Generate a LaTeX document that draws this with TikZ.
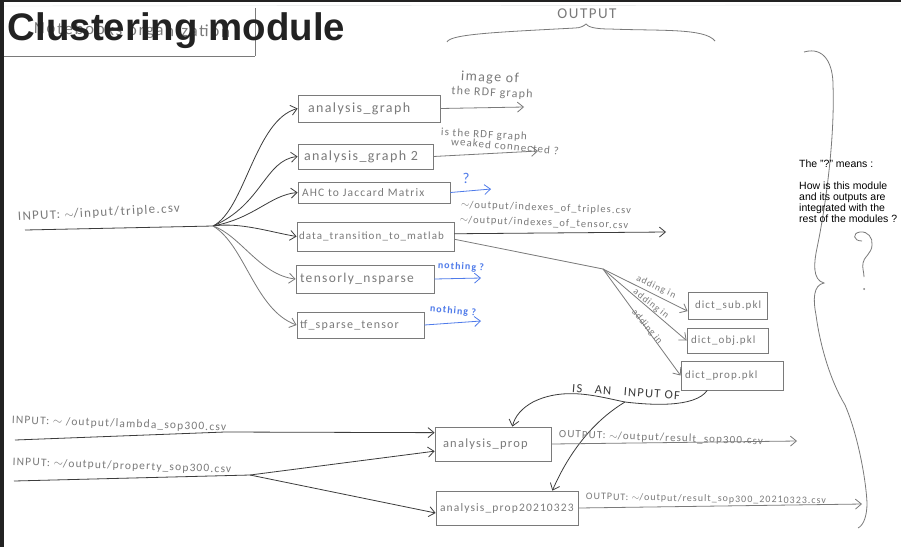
\documentclass[tikz,border=0pt]{standalone}
\usepackage{fontspec}
\usepackage{tikz}
\usetikzlibrary{arrows.meta,positioning}
\setmainfont{Liberation Sans}
\newfontfamily\handfont[LetterSpace=10]{Carlito}
\definecolor{pencil}{HTML}{7A7A7A}
\definecolor{darkpencil}{HTML}{3C3C3C}
\definecolor{bluepen}{HTML}{4F7BEA}
\definecolor{frame}{HTML}{222222}
\definecolor{faint}{HTML}{E2E6E6}
\newcommand{\handsize}[1]{\handfont\fontsize{#1}{#1}\selectfont}

\begin{document}
\begin{tikzpicture}[x=1pt,y=-1pt,>={Straight Barb[length=6pt,width=10pt]}]
	\tikzstyle{Box}		= [draw=pencil, thick, inner ysep=0pt, align=left, text=pencil]
	\tikzstyle{Hand}	= [inner sep=0pt, text=pencil]
	\tikzstyle{BlueHand}	= [inner sep=0pt, text=bluepen, font=\handsize{10}\bfseries]
	\tikzstyle{Line}	= [draw=pencil, thick]
	\tikzstyle{Dark}	= [draw=darkpencil, thick]
	\tikzstyle{Blue}	= [draw=bluepen, thick]

	\useasboundingbox (0,0) rectangle (901,547);
	\fill [white] (0,0) rectangle (901,547);
	\fill [frame] (0,0) rectangle (901,2);
	\fill [frame] (0,0) rectangle (3.5,547);

	% notebook heading, under the title
	\draw [faint] (4,6) -- (901,5);
	\draw [Line] (4,56) -- (255,56) (255,8) -- (255,56);
	\node (oldtitle) at (132,31) [Hand, rotate=-1, font=\handsize{17}] {Notebooks organization};
	\node (title) at (176.5,31) [inner sep=0pt, text=frame, font=\bfseries\fontsize{38.4}{40}\selectfont] {Clustering module};

	% modules
	\node (graph) at (369,108.5) [Box, inner xsep=10pt, text width=122pt, minimum height=27pt, font=\handsize{14}] {analysis\_graph};
	\node (graphtwo) at (365.5,156.5) [Box, inner xsep=6pt, text width=123pt, minimum height=25pt, font=\handsize{14}] {analysis\_graph 2};
	\node (ahc) at (374,192.5) [Box, inner xsep=4pt, text width=144pt, minimum height=21pt, font=\handsize{11.5}] {AHC to Jaccard Matrix};
	\node (transition) at (375.5,236.5) [Box, inner xsep=2pt, text width=153pt, minimum height=29pt, font=\handsize{11}] {data\_transition\_to\_matlab};
	\node (tensorly) at (365,279) [Box, inner xsep=4pt, text width=130pt, minimum height=28pt, font=\handsize{13.5}] {tensorly\_nsparse};
	\node (tfsparse) at (360.5,325) [Box, inner xsep=3pt, text width=121pt, minimum height=26pt, font=\handsize{12}] {tf\_sparse\_tensor};

	\node (dictsub) at (727.5,305.5) [Box, inner xsep=7pt, text width=65pt, minimum height=27pt, font=\handsize{11}] {dict\_sub.pkl};
	\node (dictobj) at (727.5,340.5) [Box, inner xsep=4pt, text width=73pt, minimum height=25pt, font=\handsize{11}] {dict\_obj.pkl};
	\node (dictprop) at (732,375.5) [Box, inner xsep=4pt, text width=94pt, minimum height=29pt, font=\handsize{11}] {dict\_prop.pkl};

	\node (prop) at (493,444) [Box, inner xsep=8pt, text width=100pt, minimum height=34pt, font=\handsize{12.5}] {analysis\_prop};
	\node (propdate) at (507,508) [Box, inner xsep=4pt, text width=134pt, minimum height=34pt, font=\handsize{11.5}] {analysis\_prop20210323};

	% input of the first group
	\coordinate (start) at (25,230);
	\coordinate (hub) at (213,226);
	\node (inputlabel) at (99,213) [Hand, rotate=3, font=\handsize{13}] {INPUT: $\sim$/input/triple.csv};
	\draw [Dark] (start) to (hub);
	\draw [Dark, ->] (hub) .. controls (245,210) and (255,120) .. (graph.west);
	\draw [Dark, ->] (hub) .. controls (262,205) and (265,160) .. (graphtwo.west);
	\draw [Dark, ->] (hub) .. controls (255,218) and (270,195) .. (ahc.west);
	\draw [Dark, ->] (hub) .. controls (240,222) and (270,232) .. (transition.west);
	\draw [Line, ->] (hub) .. controls (240,235) and (260,275) .. (tensorly.west);
	\draw [Line, ->] (hub) .. controls (245,245) and (255,310) .. (tfsparse.west);

	% outputs of the first group
	\coordinate (outgraph) at (524,107);
	\coordinate (outgraphtwo) at (538,151);
	\coordinate (outahc) at (491,189);
	\coordinate (outtransition) at (666,232);
	\coordinate (outtensorly) at (481,278);
	\coordinate (outtf) at (481,321);
	\draw [Line, ->] (graph.east) to (outgraph);
	\draw [Line, ->] (graphtwo.east) to (outgraphtwo);
	\draw [Blue, ->] (ahc.east) to (outahc);
	\draw [Dark, ->] (transition.2) to (outtransition);
	\draw [Blue, ->] (tensorly.east) to (outtensorly);
	\draw [Blue, ->] (tfsparse.east) to (outtf);

	\node (imagelabel) at (490,78) [Hand, rotate=-3, font=\handsize{14}] {image of};
	\node (rdflabel) at (492,93) [Hand, rotate=-3, font=\handsize{12}] {the RDF graph};
	\node (islabel) at (484,135) [Hand, rotate=-3, font=\handsize{11}] {is the RDF graph};
	\node (weaklabel) at (505,146) [Hand, rotate=-5, font=\handsize{11}] {weaked connected ?};
	\node (ahcmark) at (466,178) [BlueHand, font=\handsize{15}] {?};
	\node (triplelabel) at (546,208) [Hand, rotate=-2, font=\handsize{10.5}] {$\sim$/output/indexes\_of\_triples.csv};
	\node (tensorlabel) at (544,223) [Hand, rotate=-2, font=\handsize{10.5}] {$\sim$/output/indexes\_of\_tensor.csv};
	\node (nothingone) at (461,267) [BlueHand, rotate=-3] {nothing ?};
	\node (nothingtwo) at (453,311) [BlueHand, rotate=-5] {nothing ?};

	% pickle files
	\coordinate (dicthub) at (603,269);
	\draw [Line] (transition.-2) to (dicthub);
	\draw [Line, ->] (dicthub) to (dictsub.-172);
	\draw [Line, ->] (dicthub) to (dictobj.west);
	\draw [Line, ->] (dicthub) to (dictprop.west);
	\node (addingone) at (656,287) [Hand, rotate=-25, font=\handsize{9.5}] {adding in};
	\node (addingtwo) at (651,304) [Hand, rotate=-38, font=\handsize{9.5}] {adding in};
	\node (addingthree) at (647,327) [Hand, rotate=-50, font=\handsize{9.5}] {adding in};

	% dict_prop goes into both analysis modules
	\coordinate (fork) at (625,402);
	\draw [Dark, ->] (dictprop.-149) .. controls (695,408) and (650,405) .. (fork) .. controls (600,397) and (565,386) .. (533,402) .. controls (522,408) and (515,416) .. (prop.42);
	\draw [Dark, ->] (fork) .. controls (595,420) and (570,450) .. (propdate.21);
	\node (inputof) at (626,392) [inner sep=0pt, text=darkpencil, rotate=-4, font=\handsize{12.5}] {IS\quad AN\quad INPUT OF};

	% inputs of the second group
	\coordinate (startlambda) at (15,440);
	\coordinate (bendlambda) at (225,432);
	\coordinate (startproperty) at (14,481);
	\coordinate (hubproperty) at (250,475);
	\draw [Dark, ->] (startlambda) to (bendlambda) to (prop.169);
	\draw [Dark] (startproperty) to (hubproperty);
	\draw [Dark, ->] (hubproperty) to (prop.187);
	\draw [Dark, ->] (hubproperty) to (propdate.184);
	\node (lambdalabel) at (119,424) [Hand, rotate=-2, font=\handsize{11.5}] {INPUT: $\sim$ /output/lambda\_sop300.csv};
	\node (propertylabel) at (122,466) [Hand, rotate=-2, font=\handsize{11.5}] {INPUT: $\sim$/output/property\_sop300.csv};

	% outputs of the second group
	\coordinate (outprop) at (797,441);
	\coordinate (outpropdate) at (862,504);
	\draw [Line, ->] (prop.east) to (outprop);
	\draw [Line, ->] (propdate.east) to (outpropdate);
	\node (resultlabel) at (661,438) [Hand, rotate=-2, font=\handsize{11}] {OUTPUT: $\sim$/output/result\_sop300.csv};
	\node (resultdatelabel) at (706,499) [Hand, rotate=-1, font=\handsize{10}] {OUTPUT: $\sim$/output/result\_sop300\_20210323.csv};

	% braces and the big question mark
	\node (outputlabel) at (587,14) [Hand, font=\handsize{15}] {OUTPUT};
	\draw [Line] (447,42) .. controls (450,34) and (500,32) .. (575,28) .. controls (580,28) and (584,26) .. (586,24) .. controls (588,27) and (595,29) .. (610,29) .. controls (660,31) and (705,28) .. (715,41);
	\draw [Line] (804,52) .. controls (825,46) and (833,65) .. (833,85) .. controls (835,140) and (825,210) .. (817,248) .. controls (814,262) and (812,280) .. (824,283) .. controls (813,285) and (813,300) .. (816,315) .. controls (820,345) and (830,380) .. (845,405) .. controls (858,435) and (866,480) .. (867,503) .. controls (867,515) and (864,525) .. (858,528);
	\draw [Line] (862,241) .. controls (853,241) and (852,233) .. (860,232) .. controls (868,231) and (873,238) .. (872,245) .. controls (872,253) and (863,258) .. (863,263) .. controls (862,268) and (864,272) .. (864,277);
	\fill [pencil] (864,289) circle (1pt);

	\node (note) at (799,191) [anchor=west, align=left, inner sep=0pt, text=black, font=\fontsize{10.5}{11}\selectfont] {The "?" means :\\[11pt]How is this module\\and its outputs are\\integrated with the\\rest of the modules ?};
\end{tikzpicture}
\end{document}
